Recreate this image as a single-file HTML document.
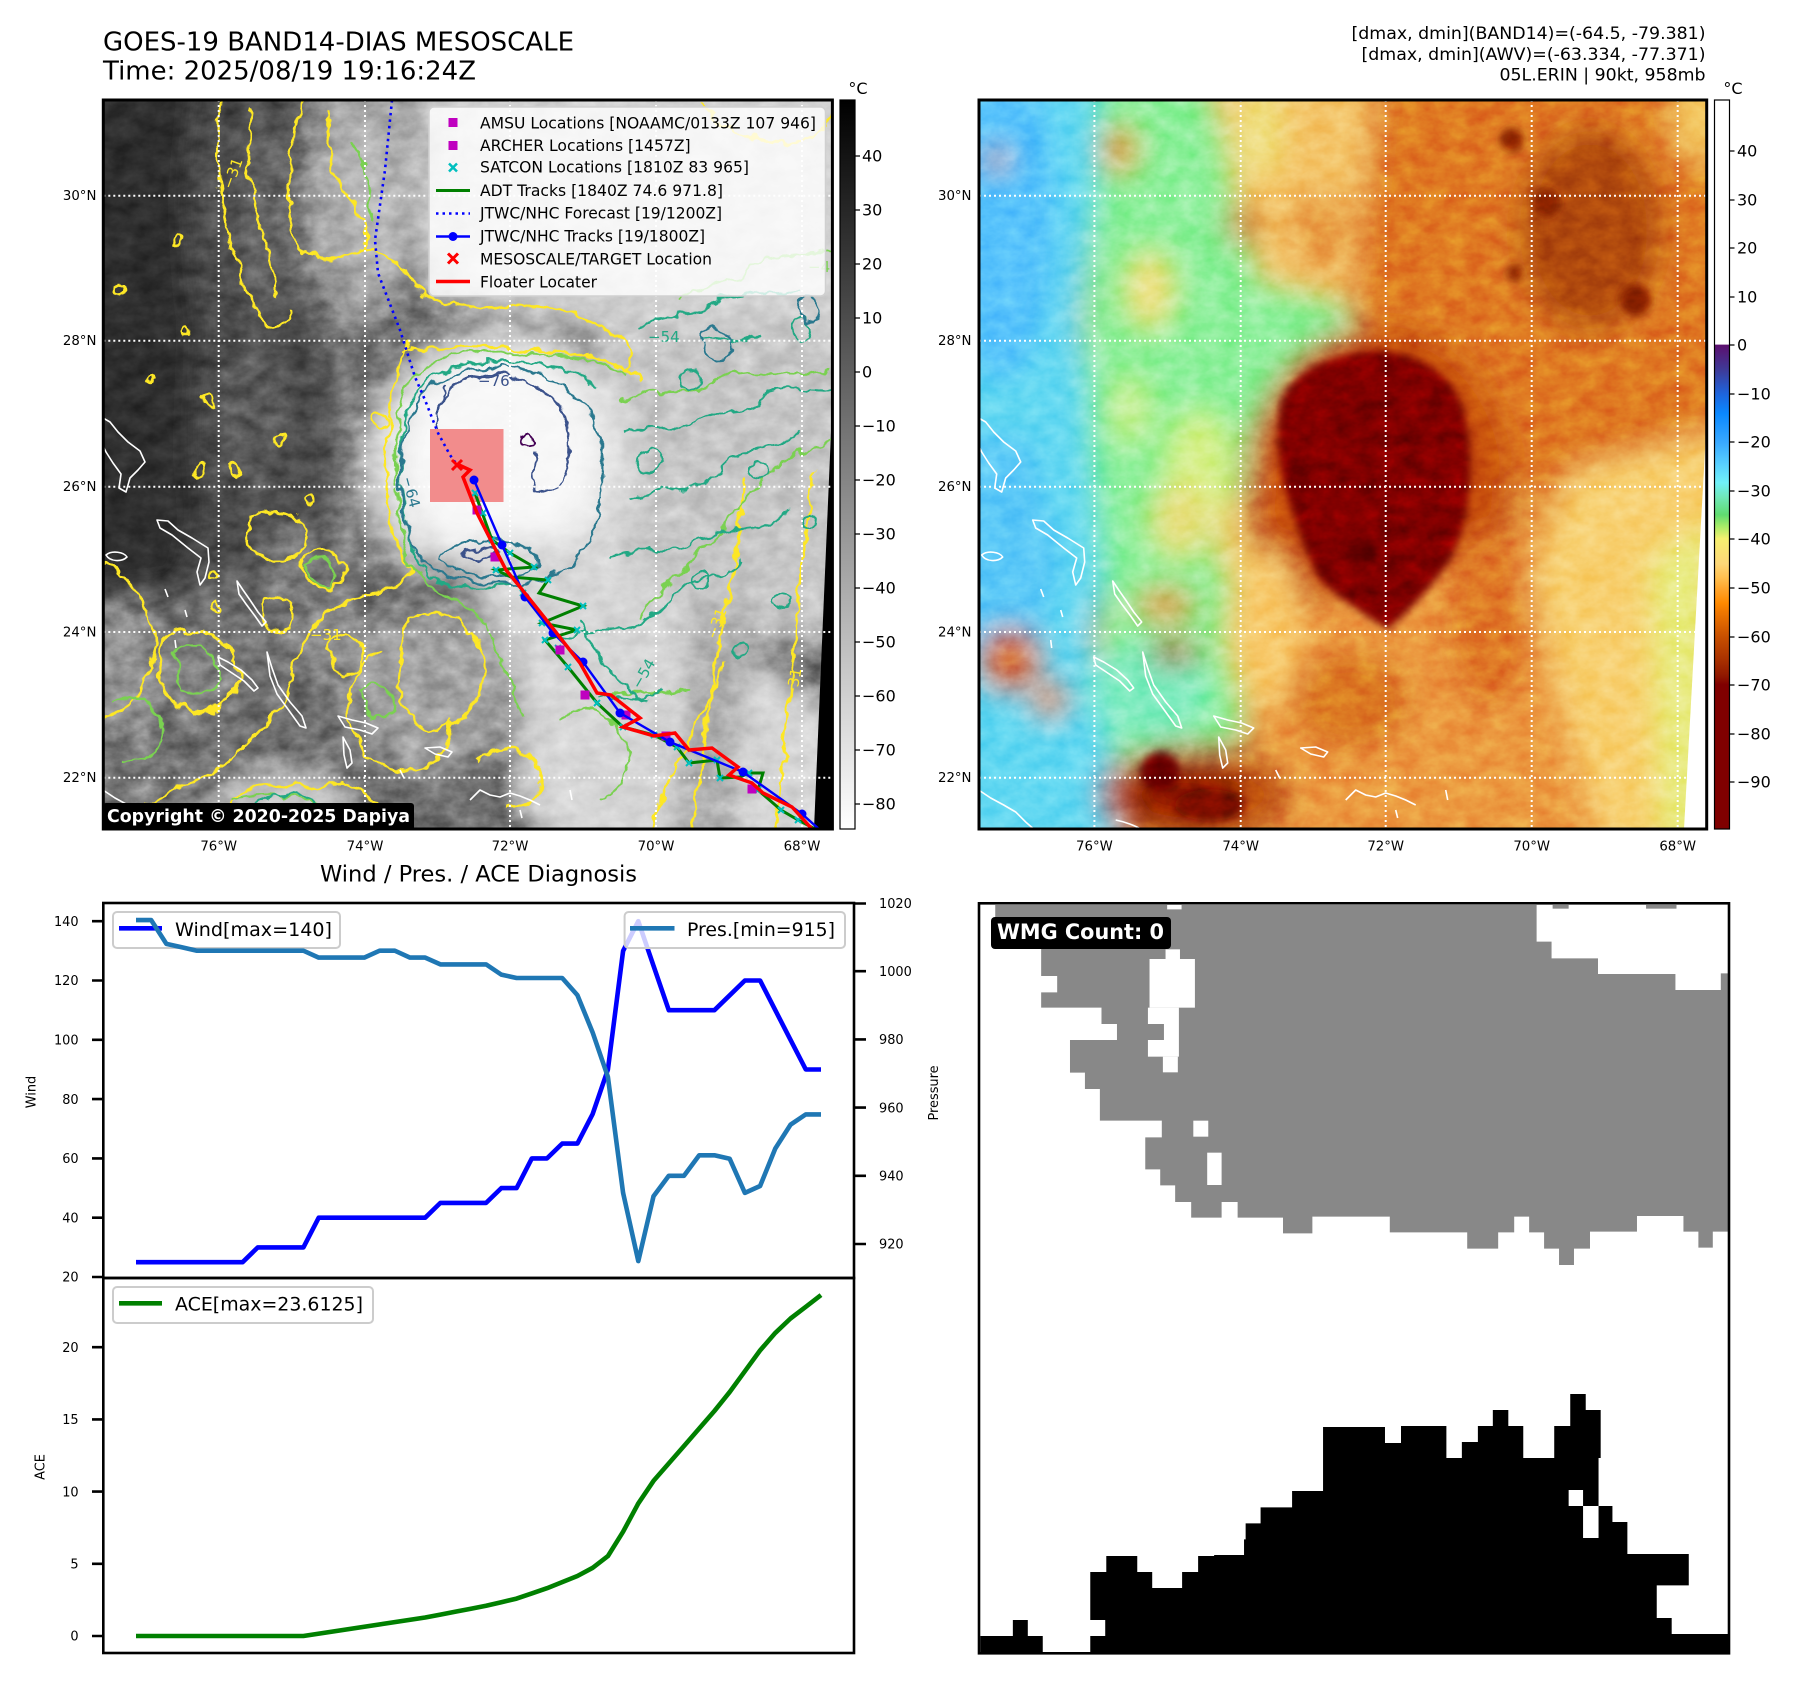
<!DOCTYPE html>
<html><head><meta charset="utf-8"><style>
html,body{margin:0;padding:0;background:#fff;}
svg{display:block;}
text{font-family:"DejaVu Sans","Liberation Sans",sans-serif;}
</style></head><body>
<svg width="1797" height="1690" viewBox="0 0 1797 1690" xmlns="http://www.w3.org/2000/svg" xmlns:xlink="http://www.w3.org/1999/xlink">
<defs>
 <clipPath id="cL"><rect x="103.3" y="100" width="729.1" height="729"/></clipPath>
 <clipPath id="cR"><rect x="979" y="100" width="727.7" height="729"/></clipPath>
 <clipPath id="cB"><rect x="979" y="903.3" width="750" height="750"/></clipPath>
 <clipPath id="cP1"><rect x="103.3" y="903" width="750.7" height="375"/></clipPath>
 <clipPath id="cP2"><rect x="103.3" y="1278" width="750.7" height="375"/></clipPath>
 <filter id="bl" x="-20%" y="-20%" width="140%" height="140%"><feGaussianBlur stdDeviation="14"/></filter>
 <filter id="bs" x="-20%" y="-20%" width="140%" height="140%"><feGaussianBlur stdDeviation="4"/></filter>
 <filter id="wig" x="-5%" y="-5%" width="110%" height="110%" color-interpolation-filters="sRGB">
  <feTurbulence type="fractalNoise" baseFrequency="0.055" numOctaves="3" seed="9" result="t"/>
  <feDisplacementMap in="SourceGraphic" in2="t" scale="14" xChannelSelector="R" yChannelSelector="G"/>
 </filter>
 <filter id="tex" color-interpolation-filters="sRGB">
  <feTurbulence type="fractalNoise" baseFrequency="0.045 0.065" numOctaves="4" seed="4"/>
  <feColorMatrix type="matrix" values="1 0 0 0 0  1 0 0 0 0  1 0 0 0 0  0 0 0 0 1"/>
 </filter>
 <linearGradient id="gGr" gradientUnits="userSpaceOnUse" x1="0" y1="100" x2="0" y2="829">
  <stop offset="0" stop-color="#000"/><stop offset="1" stop-color="#fff"/>
 </linearGradient>
 <linearGradient id="gCm" gradientUnits="userSpaceOnUse" x1="0" y1="100" x2="0" y2="829">
  <stop offset="0" stop-color="#fff"/><stop offset="0.335" stop-color="#fff"/>
  <stop offset="0.336" stop-color="#5c0f6e"/><stop offset="0.37" stop-color="#3e3a98"/>
  <stop offset="0.403" stop-color="#1e64dc"/><stop offset="0.43" stop-color="#0a88ff"/>
  <stop offset="0.469" stop-color="#38a8ff"/><stop offset="0.50" stop-color="#58d0ff"/>
  <stop offset="0.525" stop-color="#70f0f8"/><stop offset="0.545" stop-color="#70e8b8"/>
  <stop offset="0.569" stop-color="#60dc70"/><stop offset="0.585" stop-color="#a8ec68"/>
  <stop offset="0.602" stop-color="#f6f070"/><stop offset="0.636" stop-color="#fdd778"/>
  <stop offset="0.655" stop-color="#ffc050"/><stop offset="0.669" stop-color="#ffa830"/>
  <stop offset="0.69" stop-color="#ff8a00"/><stop offset="0.702" stop-color="#f07800"/>
  <stop offset="0.736" stop-color="#c85000"/><stop offset="0.769" stop-color="#a83000"/>
  <stop offset="0.79" stop-color="#901800"/><stop offset="0.802" stop-color="#800000"/>
  <stop offset="1" stop-color="#800000"/>
 </linearGradient>
 <g id="coast" fill="none" stroke="#fff" stroke-width="1.6" stroke-linejoin="round">
  <path d="M 103 418 L 110 422 L 118 432 L 128 442 L 140 451 L 145 462 L 138 470 L 130 478 L 126 492 L 119 488 L 121 474 L 113 463 L 106 452 L 103 446"/>
  <path d="M 106 555 C 112 550 124 552 127 557 C 122 562 110 562 106 555 Z"/>
  <path d="M 157 520 L 168 521 L 178 530 L 192 538 L 208 548 L 209 562 L 205 578 L 200 585 L 197 572 L 201 558 L 188 548 L 172 535 L 160 528 Z"/>
  <path d="M 237 581 L 243 590 L 250 600 L 258 612 L 266 622 L 262 626 L 255 616 L 246 604 L 239 594 Z"/>
  <path d="M 165 589 L 168 597 M 185 610 L 187 617 M 175 640 L 176 648"/>
  <path d="M 218 657 L 228 662 L 241 670 L 252 680 L 258 688 L 254 691 L 244 681 L 232 673 L 220 665 Z"/>
  <path d="M 267 652 L 272 668 L 278 685 L 290 702 L 302 716 L 306 728 L 300 726 L 290 712 L 277 694 L 270 676 Z"/>
  <path d="M 338 716 L 352 720 L 366 723 L 378 728 L 372 734 L 360 730 L 345 727 Z"/>
  <path d="M 343 737 L 350 750 L 352 763 L 347 768 L 344 755 Z"/>
  <path d="M 103 790 L 115 798 L 128 805 L 140 812 L 150 822 L 158 829"/>
  <path d="M 240 820 C 250 822 260 826 265 829"/>
  <path d="M 425 748 L 440 747 L 452 752 L 448 757 L 435 754 Z"/>
  <path d="M 470 800 L 480 790 L 490 795 L 500 797 L 510 793 L 520 796 L 530 800 L 540 805"/>
  <path d="M 520 810 L 522 818 M 570 790 L 572 800 M 400 770 L 404 778"/>
 </g>
 <g id="grid" stroke="#fff" stroke-width="2" stroke-dasharray="2 3" fill="none">
  <path d="M 103.3 195.7 H 832.4 M 103.3 340.7 H 832.4 M 103.3 486.7 H 832.4 M 103.3 632 H 832.4 M 103.3 777.7 H 832.4"/>
  <path d="M 218.7 100 V 829 M 365 100 V 829 M 510 100 V 829 M 656 100 V 829 M 802 100 V 829"/>
 </g>
</defs>

<rect width="1797" height="1690" fill="#fff"/>

<!-- Titles -->
<text x="103" y="50.7" font-size="26" textLength="471" lengthAdjust="spacingAndGlyphs">GOES-19 BAND14-DIAS MESOSCALE</text>
<text x="103" y="79.5" font-size="26" textLength="373" lengthAdjust="spacingAndGlyphs">Time: 2025/08/19 19:16:24Z</text>
<text x="1705.5" y="39" font-size="17.3" text-anchor="end" textLength="354" lengthAdjust="spacingAndGlyphs">[dmax, dmin](BAND14)=(-64.5, -79.381)</text>
<text x="1705.5" y="59.8" font-size="17.3" text-anchor="end" textLength="344" lengthAdjust="spacingAndGlyphs">[dmax, dmin](AWV)=(-63.334, -77.371)</text>
<text x="1705.5" y="80.5" font-size="17.3" text-anchor="end" textLength="206" lengthAdjust="spacingAndGlyphs">05L.ERIN | 90kt, 958mb</text>

<!-- ================= LEFT MAP ================= -->
<g clip-path="url(#cL)">
 <g filter="url(#bl)">
  <rect x="50" y="50" width="830" height="830" fill="#6e6e6e"/>
  <polygon points="50,50 205,50 195,200 200,350 205,500 190,590 50,610" fill="#2f2f2f"/>
  <polygon points="205,50 320,50 300,180 295,260 320,340 340,420 340,500 300,570 205,590 195,450 200,300" fill="#4b4b4b"/>
  <ellipse cx="265" cy="220" rx="28" ry="100" fill="#646464"/>
  <ellipse cx="250" cy="420" rx="40" ry="70" fill="#5a5a5a"/>
  <polygon points="320,50 430,50 425,250 395,300 350,330 310,260 300,180" fill="#a4a4a4"/>
  <ellipse cx="370" cy="200" rx="30" ry="70" fill="#bcbcbc"/>
  <polygon points="430,50 880,50 880,330 610,330 440,300 420,250" fill="#d2d2d2"/>
  <polygon points="600,320 880,320 880,640 640,640 590,520" fill="#c6c6c6"/>
  <ellipse cx="370" cy="470" rx="30" ry="90" fill="#888888"/>
  <ellipse cx="500" cy="465" rx="135" ry="135" fill="#dedede"/>
  <ellipse cx="500" cy="458" rx="100" ry="105" fill="#f8f8f8"/>
  <polygon points="470,540 610,540 720,640 880,740 880,880 560,880 500,760" fill="#d6d6d6"/>
  <polygon points="690,620 745,600 735,880 672,880" fill="#ababab"/>
  <polygon points="50,610 190,590 330,580 460,560 520,690 510,880 50,880" fill="#6e6e6e"/>
  <ellipse cx="285" cy="805" rx="70" ry="35" fill="#c8c8c8"/>
  <ellipse cx="330" cy="640" rx="45" ry="30" fill="#909090"/>
  <ellipse cx="120" cy="670" rx="40" ry="70" fill="#949494"/>
  <ellipse cx="430" cy="690" rx="80" ry="80" fill="#a2a2a2"/>
  <ellipse cx="300" cy="560" rx="40" ry="30" fill="#808080"/>
  <ellipse cx="200" cy="680" rx="40" ry="40" fill="#848484"/>
  <ellipse cx="160" cy="790" rx="50" ry="30" fill="#7e7e7e"/>
 </g>
 <rect x="103.3" y="100" width="729.1" height="729" filter="url(#tex)" style="mix-blend-mode:overlay" opacity="0.45"/>
 <polygon points="832.4,400 832.4,829 814,829" fill="#000"/>

 <!-- contours -->
 <g filter="url(#wig)" fill="none" stroke-linejoin="round">
  <g stroke="#fde725" stroke-width="2.6">
   <path d="M 222 100 C 214 140 218 190 228 230 C 236 270 250 300 262 320 C 272 335 285 330 290 310"/>
   <path d="M 300 100 C 292 140 285 190 292 230 C 300 262 330 262 356 252 C 380 245 400 262 415 285 C 430 305 470 310 520 306 C 560 304 590 322 610 330 C 630 340 640 360 620 370"/>
   <path d="M 250 110 C 245 150 250 190 262 230 C 270 260 280 280 275 300"/>
   <path d="M 330 110 C 325 140 330 170 345 190 C 360 210 370 230 365 250"/>
   <path d="M 402 352 C 450 345 520 345 580 355 C 610 360 630 368 640 380"/>
   <path d="M 410 345 C 392 370 386 420 388 470 C 390 520 394 548 410 565 C 420 585 380 590 350 600 C 320 610 300 640 290 680 C 280 720 250 740 230 760 C 200 780 170 790 140 810 C 125 820 110 825 103 829"/>
   <path d="M 215 829 C 220 800 250 780 290 785 C 320 790 340 775 360 790 C 380 805 400 815 410 829"/>
   <path d="M 103 560 C 120 570 140 590 150 620 C 160 650 150 680 130 700 C 120 715 108 720 103 722"/>
   <path d="M 160 640 C 185 625 215 630 230 650 C 245 670 240 700 215 710 C 190 718 165 700 160 680 C 158 665 158 650 160 640 Z"/>
   <path d="M 250 520 C 270 505 300 510 305 530 C 310 550 290 565 265 560 C 248 555 245 535 250 520 Z"/>
   <path d="M 380 650 C 360 660 345 690 350 720 C 355 750 380 770 410 770 C 440 768 455 745 450 720"/>
   <path d="M 300 560 C 320 545 350 550 345 575 C 340 595 310 600 300 560 Z"/>
   <path d="M 330 640 C 350 625 370 640 360 665 C 350 685 325 675 330 640 Z"/>
   <path d="M 265 600 C 290 590 300 610 290 630 C 275 640 260 620 265 600 Z"/>
   <path d="M 745 480 C 740 540 730 590 720 640 C 712 690 705 740 698 790 C 695 810 693 820 692 829"/>
   <path d="M 815 470 C 805 530 800 580 795 630 C 790 680 785 740 780 790 C 778 810 776 820 775 829"/>
   <path d="M 650 829 C 660 790 680 760 700 720 C 710 700 720 680 725 660"/>
   <path d="M 410 620 C 440 600 470 620 480 650 C 490 690 470 720 440 730 C 410 735 395 700 400 670 C 402 640 405 630 410 620 Z"/>
   <path d="M 480 760 C 500 740 530 745 540 770 C 548 795 530 810 505 805"/>
   <path d="M 700 100 C 720 130 760 150 800 140 C 820 135 830 120 832 110"/>
   <circle cx="120" cy="290" r="6"/><circle cx="186" cy="333" r="5"/><circle cx="207" cy="400" r="5"/>
   <circle cx="200" cy="470" r="6"/><circle cx="212" cy="575" r="4"/><circle cx="215" cy="606" r="4"/>
   <circle cx="178" cy="240" r="5"/><circle cx="150" cy="380" r="4"/><circle cx="380" cy="420" r="6"/>
   <circle cx="235" cy="470" r="5"/><circle cx="280" cy="440" r="6"/><circle cx="310" cy="500" r="5"/>
  </g>
  <g stroke="#7ad151" stroke-width="2.3">
   <path d="M 625 372 C 580 352 520 350 460 354 C 420 360 402 382 398 420 C 394 470 398 530 410 565 C 432 590 462 600 482 620 C 502 650 512 690 522 720"/>
   <path d="M 620 400 C 650 385 690 400 720 380 C 750 362 790 380 832 370"/>
   <path d="M 640 620 C 660 580 700 560 730 520 C 760 480 790 450 832 440"/>
   <path d="M 600 700 C 630 680 660 700 690 690"/>
   <path d="M 110 700 C 130 690 150 700 160 720 C 170 740 150 760 120 760"/>
   <path d="M 230 800 C 260 790 300 795 330 805"/>
   <path d="M 305 565 C 320 555 340 560 338 578 C 335 592 315 595 305 565 Z"/>
   <path d="M 360 690 C 380 680 400 690 395 710 C 390 725 365 720 360 690 Z"/>
   <path d="M 680 300 C 700 280 730 290 750 270 C 770 250 800 260 832 250"/>
   <path d="M 560 720 C 580 700 610 710 625 740 C 640 770 620 790 600 800"/>
   <path d="M 175 650 C 195 640 215 650 220 670 C 222 690 200 700 180 690 Z"/>
   <path d="M 350 140 C 365 160 375 190 372 220"/>
  </g>
  <g stroke="#22a884" stroke-width="2.2">
   <path d="M 600 390 C 580 367 530 360 480 362 C 432 366 404 392 401 440 C 398 490 404 540 422 570 C 446 592 480 590 510 585"/>
   <path d="M 620 430 C 650 420 680 440 700 420 C 720 400 740 420 760 400 C 780 380 810 395 832 390"/>
   <path d="M 630 500 C 660 480 700 500 720 470 C 740 440 780 460 800 430"/>
   <path d="M 610 560 C 640 540 670 560 700 540 C 730 520 760 540 790 510"/>
   <path d="M 560 640 C 600 620 640 640 670 600 C 690 570 710 590 740 560"/>
   <path d="M 640 330 C 660 310 700 320 720 300 C 740 285 770 300 800 290"/>
   <path d="M 700 340 C 720 330 740 350 760 335"/>
   <path d="M 600 700 C 620 690 640 705 660 690"/>
   <path d="M 240 829 C 245 805 270 790 300 795 C 320 798 330 810 335 829"/>
   <path d="M 580 620 C 600 660 620 690 650 700"/>
   <circle cx="650" cy="460" r="12"/><circle cx="760" cy="470" r="10"/><circle cx="700" cy="580" r="8"/>
   <circle cx="800" cy="330" r="10"/><circle cx="780" cy="600" r="8"/><circle cx="690" cy="380" r="9"/>
   <circle cx="810" cy="520" r="7"/><circle cx="740" cy="650" r="7"/>
  </g>
  <g stroke="#2a788e" stroke-width="2.2">
   <path d="M 480 367 C 540 362 590 392 600 440 C 608 490 595 540 570 570 C 540 590 480 585 440 575 C 410 560 400 520 400 470 C 400 410 430 372 480 367 Z"/>
   <path d="M 440 560 C 450 540 490 535 520 545 C 540 552 545 565 530 572 C 505 580 460 578 440 560 Z"/>
   <path d="M 252 829 C 262 810 285 805 305 812 C 320 818 325 825 326 829"/>
   <path d="M 700 330 C 720 320 740 340 730 355 C 715 365 700 350 700 330 Z"/>
   <path d="M 800 300 C 815 295 825 310 815 322 C 805 328 795 315 800 300 Z"/>
  </g>
  <g stroke="#3b528b" stroke-width="2.3">
   <path d="M 437 415 C 440 395 455 380 480 376 C 510 372 540 385 558 405 C 572 425 574 455 565 475 C 558 488 545 495 535 490 C 530 480 540 465 535 450"/>
   <path d="M 444 385 C 440 400 437 415 438 430"/>
   <path d="M 470 378 C 480 372 495 372 505 376"/>
   <path d="M 460 555 C 470 545 490 545 500 552 C 490 560 470 560 460 555 Z"/>
  </g>
  <circle cx="527" cy="440" r="6" stroke="#440154" stroke-width="2"/>
 </g>
 <g font-size="15">
  <text x="478" y="386" fill="#3b528b">−76</text>
  <text x="0" y="0" fill="#2a788e" transform="translate(402,478) rotate(75)">−64</text>
  <text x="0" y="0" fill="#fde725" transform="translate(232,190) rotate(-70)">−31</text>
  <text x="648" y="342" fill="#22a884">−54</text>
  <text x="0" y="0" fill="#fde725" transform="translate(716,640) rotate(-70)">−31</text>
  <text x="0" y="0" fill="#fde725" transform="translate(796,700) rotate(-80)">−31</text>
  <text x="274" y="818" fill="#2a788e">−64</text>
  <text x="310" y="640" fill="#fde725">−31</text>
  <text x="808" y="272" fill="#7ad151">−42</text>
  <text x="0" y="0" fill="#22a884" transform="translate(640,690) rotate(-60)">−54</text>
 </g>

 <use xlink:href="#coast" href="#coast"/>
 <use xlink:href="#grid" href="#grid"/>

 <!-- overlays -->
 <rect x="430" y="429" width="73.5" height="73" fill="#f28c8c"/>
 <polyline points="392,100 385,170 375,240 378,273 400,330 415,377 425,400 438,433 450,455 457,465" fill="none" stroke="#0000ff" stroke-width="2.6" stroke-dasharray="2.5 4"/>
 <polyline points="475,493 492,540 510,553 534,567 496,570 511,577 548,580 539,593 583,606 542,623 577,630 545,640 568,667 597,703 623,727 654,735 677,747 689,763 717,760 720,778 740,777 749,773 763,773 758,790 781,810 798,820 815,829" fill="none" stroke="#008000" stroke-width="3"/>
 <g stroke="#00bfbf" stroke-width="2">
  <path d="M 472 490 l 6 6 m 0 -6 l -6 6 M 489 537 l 6 6 m 0 -6 l -6 6 M 507 550 l 6 6 m 0 -6 l -6 6 M 531 564 l 6 6 m 0 -6 l -6 6 M 493 567 l 6 6 m 0 -6 l -6 6 M 545 577 l 6 6 m 0 -6 l -6 6 M 580 603 l 6 6 m 0 -6 l -6 6 M 539 620 l 6 6 m 0 -6 l -6 6 M 574 627 l 6 6 m 0 -6 l -6 6 M 542 637 l 6 6 m 0 -6 l -6 6 M 565 664 l 6 6 m 0 -6 l -6 6 M 594 700 l 6 6 m 0 -6 l -6 6 M 620 724 l 6 6 m 0 -6 l -6 6 M 651 732 l 6 6 m 0 -6 l -6 6 M 674 744 l 6 6 m 0 -6 l -6 6 M 686 760 l 6 6 m 0 -6 l -6 6 M 714 757 l 6 6 m 0 -6 l -6 6 M 717 775 l 6 6 m 0 -6 l -6 6 M 746 770 l 6 6 m 0 -6 l -6 6 M 755 787 l 6 6 m 0 -6 l -6 6 M 778 807 l 6 6 m 0 -6 l -6 6 M 795 817 l 6 6 m 0 -6 l -6 6 M 480 510 l 6 6 m 0 -6 l -6 6 M 520 590 l 6 6 m 0 -6 l -6 6 M 555 645 l 6 6 m 0 -6 l -6 6"/>
 </g>
 <g fill="#bf00bf">
  <rect x="472.5" y="505.5" width="9" height="9"/><rect x="490.5" y="552.5" width="9" height="9"/>
  <rect x="555.5" y="645.5" width="9" height="9"/><rect x="580.5" y="690.5" width="9" height="9"/>
  <rect x="621.5" y="710.5" width="9" height="9"/><rect x="661.5" y="731.5" width="9" height="9"/>
  <rect x="747.5" y="784.5" width="9" height="9"/>
 </g>
 <polyline points="474,480 502,545 525,597 553,633 583,662 620,713 670,742 743,772 802,814 820,830" fill="none" stroke="#0000ff" stroke-width="2.4"/>
 <g fill="#0000ff">
  <circle cx="474" cy="480" r="4.5"/><circle cx="502" cy="545" r="4.5"/><circle cx="525" cy="597" r="4.5"/>
  <circle cx="553" cy="633" r="4.5"/><circle cx="583" cy="662" r="4.5"/><circle cx="620" cy="713" r="4.5"/>
  <circle cx="670" cy="742" r="4.5"/><circle cx="743" cy="772" r="4.5"/><circle cx="802" cy="814" r="4.5"/>
 </g>
 <polyline points="459,465 470,470 463,477 477,513 506,570 520,587 544,617 580,663 597,693 611,695 640,718 623,727 654,736 675,733 689,750 712,748 738,767 729,775 752,783 763,793 792,807 812,829" fill="none" stroke="#ff0000" stroke-width="3.5" stroke-linejoin="miter"/>
 <path d="M 452 460 L 462 470 M 452 470 L 462 460" stroke="#ff0000" stroke-width="3"/>

 <!-- legend -->
 <rect x="429" y="107" width="396.5" height="189" rx="5" fill="#fff" fill-opacity="0.8" stroke="#d0d0d0" stroke-width="1.5"/>
 <rect x="448.5" y="118" width="9" height="9" fill="#bf00bf"/>
 <rect x="448.5" y="141" width="9" height="9" fill="#bf00bf"/>
 <path d="M 449 163.5 l 8 8 m 0 -8 l -8 8" stroke="#00bfbf" stroke-width="2.5"/>
 <line x1="436" y1="190.5" x2="470" y2="190.5" stroke="#008000" stroke-width="3"/>
 <line x1="436" y1="213.5" x2="470" y2="213.5" stroke="#0000ff" stroke-width="2.6" stroke-dasharray="2.5 4"/>
 <line x1="436" y1="236.5" x2="470" y2="236.5" stroke="#0000ff" stroke-width="2.6"/>
 <circle cx="453" cy="236.5" r="4.5" fill="#0000ff"/>
 <path d="M 448 253.5 l 10 10 m 0 -10 l -10 10" stroke="#ff0000" stroke-width="3"/>
 <line x1="436" y1="281.5" x2="470" y2="281.5" stroke="#ff0000" stroke-width="3.5"/>
 <g font-size="15.6" fill="#000">
  <text x="480" y="128.3" textLength="336" lengthAdjust="spacingAndGlyphs">AMSU Locations [NOAAMC/0133Z 107 946]</text>
  <text x="480" y="151" textLength="210.6" lengthAdjust="spacingAndGlyphs">ARCHER Locations [1457Z]</text>
  <text x="480" y="172.7" textLength="269" lengthAdjust="spacingAndGlyphs">SATCON Locations [1810Z 83 965]</text>
  <text x="480" y="196" textLength="243" lengthAdjust="spacingAndGlyphs">ADT Tracks [1840Z 74.6 971.8]</text>
  <text x="480" y="218.7" textLength="242" lengthAdjust="spacingAndGlyphs">JTWC/NHC Forecast [19/1200Z]</text>
  <text x="480" y="241.7" textLength="225" lengthAdjust="spacingAndGlyphs">JTWC/NHC Tracks [19/1800Z]</text>
  <text x="480" y="264.3" textLength="232" lengthAdjust="spacingAndGlyphs">MESOSCALE/TARGET Location</text>
  <text x="480" y="287.3" textLength="117" lengthAdjust="spacingAndGlyphs">Floater Locater</text>
 </g>
 <!-- copyright -->
 <rect x="103" y="803" width="311" height="28" rx="3" fill="#000"/>
 <text x="107" y="822" font-size="17.4" font-weight="bold" fill="#fff" textLength="303" lengthAdjust="spacingAndGlyphs">Copyright © 2020-2025 Dapiya</text>
</g>
<rect x="103.3" y="100" width="729.1" height="729" fill="none" stroke="#000" stroke-width="3"/>

<!-- left colorbar -->
<rect x="840" y="100" width="15" height="729" fill="url(#gGr)" stroke="#000" stroke-width="1.2"/>
<text x="858" y="94" font-size="16" text-anchor="middle">°C</text>
<g stroke="#000" stroke-width="1.3">
 <path d="M855 156h5M855 210h5M855 264h5M855 318h5M855 372h5M855 426h5M855 480h5M855 534h5M855 588h5M855 642h5M855 696h5M855 750h5M855 804h5"/>
</g>
<g font-size="16">
 <text x="862" y="161.7">40</text><text x="862" y="215.7">30</text><text x="862" y="269.7">20</text>
 <text x="862" y="323.7">10</text><text x="862" y="377.7">0</text><text x="862" y="431.7">−10</text>
 <text x="862" y="485.7">−20</text><text x="862" y="539.7">−30</text><text x="862" y="593.7">−40</text>
 <text x="862" y="647.7">−50</text><text x="862" y="701.7">−60</text><text x="862" y="755.7">−70</text>
 <text x="862" y="809.7">−80</text>
</g>

<!-- left map tick labels -->
<g font-size="13.3" text-anchor="end">
 <text x="96.4" y="200.2">30°N</text><text x="96.4" y="345.2">28°N</text><text x="96.4" y="491.2">26°N</text>
 <text x="96.4" y="636.5">24°N</text><text x="96.4" y="782.2">22°N</text>
</g>
<g font-size="13.3" text-anchor="middle">
 <text x="218.7" y="850.7">76°W</text><text x="365" y="850.7">74°W</text><text x="510" y="850.7">72°W</text>
 <text x="656" y="850.7">70°W</text><text x="802" y="850.7">68°W</text>
</g>

<!-- ================= RIGHT MAP ================= -->
<g clip-path="url(#cR)">
 <g filter="url(#bl)">
  <rect x="930" y="50" width="830" height="830" fill="#e89a40"/>
  <polygon points="930,50 1110,50 1095,200 1080,320 1095,450 1110,560 1090,640 1110,720 1120,880 930,880" fill="#62d8f2"/>
  <ellipse cx="1000" cy="210" rx="55" ry="170" fill="#56c2fc"/>
  <polygon points="930,430 1030,440 1060,560 1040,640 930,650" fill="#5ac8f8"/>
  <polygon points="1100,50 1200,50 1240,200 1260,280 1330,300 1420,330 1400,370 1290,380 1250,430 1240,560 1235,640 1245,740 1120,770 1095,700 1105,600 1090,450 1085,320 1095,200" fill="#8cf09a"/>
  <ellipse cx="1150" cy="690" rx="60" ry="50" fill="#80ecc0"/>
  <ellipse cx="1200" cy="470" rx="35" ry="60" fill="#d4f084"/>
  <ellipse cx="1130" cy="410" rx="22" ry="35" fill="#c8f090"/>
  <ellipse cx="1240" cy="540" rx="25" ry="45" fill="#f0d070"/>
  <ellipse cx="1165" cy="605" rx="30" ry="18" fill="#e0a050"/>
  <polygon points="1210,50 1390,50 1385,200 1350,300 1270,285 1235,200" fill="#f4c468"/>
  <ellipse cx="1260" cy="130" rx="25" ry="50" fill="#f0e080"/>
  <ellipse cx="1320" cy="230" rx="30" ry="40" fill="#e89a40"/>
  <ellipse cx="1150" cy="290" rx="25" ry="40" fill="#f0e080"/>
  <ellipse cx="1120" cy="150" rx="18" ry="25" fill="#e8a050"/>
  <ellipse cx="1243" cy="225" rx="16" ry="18" fill="#c86818"/>
  <ellipse cx="1180" cy="520" rx="30" ry="40" fill="#e8e080"/>
  <ellipse cx="997" cy="160" rx="10" ry="12" fill="#e89040"/>
  <polygon points="1380,50 1760,50 1760,520 1600,520 1500,470 1420,360 1350,320 1360,220" fill="#e07a20"/>
  <ellipse cx="1590" cy="230" rx="70" ry="100" fill="#b04a08"/>
  <ellipse cx="1700" cy="110" rx="30" ry="55" fill="#f4c860"/>
  <ellipse cx="1380" cy="490" rx="135" ry="165" fill="#c85008"/>
  <polygon points="1260,620 1460,560 1560,520 1650,520 1620,880 1280,880" fill="#ec9a40"/>
  <ellipse cx="1265" cy="630" rx="40" ry="80" fill="#f8c868"/>
  <ellipse cx="1350" cy="700" rx="60" ry="50" fill="#dc7820"/>
  <ellipse cx="1490" cy="620" rx="45" ry="90" fill="#e07828"/>
  <polygon points="1570,470 1760,420 1760,880 1610,880 1560,700 1530,580" fill="#f8d070"/>
  <polygon points="1650,560 1710,520 1710,880 1660,880" fill="#e8ec80"/>
  <ellipse cx="1195" cy="795" rx="95" ry="50" fill="#c05010"/>
  <ellipse cx="1185" cy="795" rx="60" ry="32" fill="#901800"/>
  <ellipse cx="1010" cy="660" rx="32" ry="32" fill="#d87020"/>
  <ellipse cx="1050" cy="700" rx="18" ry="18" fill="#e08838"/>
  <ellipse cx="1175" cy="652" rx="25" ry="12" fill="#b04010"/>
 </g>
 <g filter="url(#bs)">
  <circle cx="1512" cy="140" r="12" fill="#8a2000"/>
  <circle cx="1546" cy="203" r="14" fill="#8a2000"/>
  <circle cx="1515" cy="273" r="8" fill="#8a2000"/>
  <circle cx="1636" cy="300" r="16" fill="#902400"/>
  <circle cx="1160" cy="772" r="20" fill="#6a0000"/>
  <ellipse cx="1210" cy="805" rx="35" ry="16" fill="#7a0800"/>
  <path d="M 1375 350 C 1405 352 1430 362 1445 378 C 1462 395 1468 420 1470 450 C 1472 490 1467 530 1450 560 C 1430 590 1405 615 1388 630 C 1372 620 1340 600 1320 580 C 1305 555 1295 520 1285 490 C 1277 460 1275 430 1282 400 C 1292 375 1320 355 1375 350 Z" fill="#800000"/>
  <ellipse cx="1358" cy="552" rx="20" ry="12" fill="#600000"/>
 </g>
 <rect x="979" y="100" width="727.7" height="729" filter="url(#tex)" style="mix-blend-mode:overlay" opacity="0.35"/>
 <polygon points="1706.7,420 1706.7,829 1684,829" fill="#fff"/>
 <g transform="translate(875.7,0)">
  <use xlink:href="#coast" href="#coast"/>
  <use xlink:href="#grid" href="#grid"/>
 </g>
</g>
<rect x="979" y="100" width="727.7" height="729" fill="none" stroke="#000" stroke-width="3"/>

<!-- right colorbar -->
<rect x="1714.5" y="100" width="15" height="729" fill="url(#gCm)" stroke="#000" stroke-width="1.2"/>
<text x="1733" y="94" font-size="16" text-anchor="middle">°C</text>
<g stroke="#000" stroke-width="1.3">
 <path d="M1729.5 151h5M1729.5 200h5M1729.5 248h5M1729.5 297h5M1729.5 345h5M1729.5 394h5M1729.5 442h5M1729.5 491h5M1729.5 539h5M1729.5 588h5M1729.5 637h5M1729.5 685h5M1729.5 734h5M1729.5 782h5"/>
</g>
<g font-size="16">
 <text x="1737" y="156.7">40</text><text x="1737" y="205.7">30</text><text x="1737" y="253.7">20</text>
 <text x="1737" y="302.7">10</text><text x="1737" y="350.7">0</text><text x="1737" y="399.7">−10</text>
 <text x="1737" y="447.7">−20</text><text x="1737" y="496.7">−30</text><text x="1737" y="544.7">−40</text>
 <text x="1737" y="593.7">−50</text><text x="1737" y="642.7">−60</text><text x="1737" y="690.7">−70</text>
 <text x="1737" y="739.7">−80</text><text x="1737" y="787.7">−90</text>
</g>
<g font-size="13.3" text-anchor="end">
 <text x="971.5" y="200.2">30°N</text><text x="971.5" y="345.2">28°N</text><text x="971.5" y="491.2">26°N</text>
 <text x="971.5" y="636.5">24°N</text><text x="971.5" y="782.2">22°N</text>
</g>
<g font-size="13.3" text-anchor="middle">
 <text x="1094.4" y="850.7">76°W</text><text x="1240.7" y="850.7">74°W</text><text x="1385.7" y="850.7">72°W</text>
 <text x="1531.7" y="850.7">70°W</text><text x="1677.7" y="850.7">68°W</text>
</g>

<!-- ================= BOTTOM LEFT PLOTS ================= -->
<text x="478.5" y="881.5" font-size="22.4" text-anchor="middle" textLength="317" lengthAdjust="spacingAndGlyphs">Wind / Pres. / ACE Diagnosis</text>

<g clip-path="url(#cP1)">
 <polyline points="136,1262.2 242.6,1262.2 257.8,1247.4 303.4,1247.4 318.7,1217.7 425.2,1217.7 440.4,1202.9 486.1,1202.9 501.3,1188.1 516.6,1188.1 531.8,1158.4 547,1158.4 562.2,1143.6 577.4,1143.6 592.7,1113.9 607.9,1069.5 623.1,950.9 638.3,921.2 653.5,965.7 668.8,1010.2 714.4,1010.2 729.7,995.3 744.9,980.5 760.1,980.5 775.3,1010.2 790.5,1039.8 805.8,1069.5 821,1069.5" fill="none" stroke="#0000ff" stroke-width="4.6" stroke-linejoin="round"/>
</g>
<rect x="113" y="912" width="227" height="36" rx="4" fill="#fff" fill-opacity="0.8" stroke="#cccccc" stroke-width="2"/>
<line x1="119" y1="928.3" x2="162" y2="928.3" stroke="#0000ff" stroke-width="4.6"/>
<text x="175" y="936" font-size="19" textLength="157" lengthAdjust="spacingAndGlyphs">Wind[max=140]</text>
<g clip-path="url(#cP1)">
 <polyline points="136,920.1 151.2,920.1 166.4,943.9 181.7,947.3 196.9,950.7 303.4,950.7 318.7,957.6 364.3,957.6 379.6,950.7 394.8,950.7 410,957.6 425.2,957.6 440.4,964.4 486.1,964.4 501.3,974.6 516.6,978 562.2,978 577.4,995.1 592.7,1032.6 607.9,1076.9 623.1,1192.9 638.3,1261.1 653.5,1196.3 668.8,1175.8 684,1175.8 699.2,1155.3 714.4,1155.3 729.7,1158.8 744.9,1192.9 760.1,1186 775.3,1148.5 790.5,1124.7 805.8,1114.4 821,1114.4" fill="none" stroke="#1f77b4" stroke-width="4.6" stroke-linejoin="round"/>
</g>
<rect x="624.6" y="912" width="220.4" height="36" rx="4" fill="#fff" fill-opacity="0.8" stroke="#cccccc" stroke-width="2"/>
<line x1="630" y1="928.3" x2="674.5" y2="928.3" stroke="#1f77b4" stroke-width="4.6"/>
<text x="687" y="936" font-size="19" textLength="148" lengthAdjust="spacingAndGlyphs">Pres.[min=915]</text>

<g clip-path="url(#cP2)">
 <polyline points="136,1636 303.4,1636 425.2,1617.5 440.4,1614.6 455.7,1611.6 470.9,1608.7 486.1,1605.8 501.3,1602.2 516.6,1598.6 531.8,1593.4 547,1588.2 562.2,1582.1 577.4,1576 592.7,1567.8 607.9,1556.1 623.1,1531.7 638.3,1503.4 653.5,1480.9 668.8,1463.4 684,1446 699.2,1428.5 714.4,1411 729.7,1392 744.9,1371.2 760.1,1350.4 775.3,1332.9 790.5,1318.5 805.8,1306.8 821,1295.1" fill="none" stroke="#008000" stroke-width="4.6" stroke-linejoin="round"/>
</g>
<rect x="113" y="1287" width="260" height="36" rx="4" fill="#fff" fill-opacity="0.8" stroke="#cccccc" stroke-width="2"/>
<line x1="119" y1="1303.3" x2="162" y2="1303.3" stroke="#008000" stroke-width="4.6"/>
<text x="175" y="1310.7" font-size="19" textLength="188" lengthAdjust="spacingAndGlyphs">ACE[max=23.6125]</text>

<rect x="103.3" y="903" width="750.7" height="375" fill="none" stroke="#000" stroke-width="2.6"/>
<rect x="103.3" y="1278" width="750.7" height="375" fill="none" stroke="#000" stroke-width="2.6"/>
<g stroke="#000" stroke-width="2.6">
 <path d="M92 921.2h11M92 980.5h11M92 1039.8h11M92 1099.1h11M92 1158.4h11M92 1217.7h11M92 1277h11"/>
 <path d="M854 903.5h12M854 971.2h12M854 1039.4h12M854 1107.6h12M854 1175.8h12M854 1244h12"/>
 <path d="M92 1636h11M92 1563.8h11M92 1491.6h11M92 1419.4h11M92 1347.2h11"/>
</g>
<g font-size="12.9" text-anchor="end">
 <text x="78.6" y="925.9">140</text><text x="78.6" y="985.2">120</text><text x="78.6" y="1044.5">100</text>
 <text x="78.6" y="1103.8">80</text><text x="78.6" y="1163.1">60</text><text x="78.6" y="1222.4">40</text>
 <text x="78.6" y="1281.7">20</text>
 <text x="78.6" y="1640.7">0</text><text x="78.6" y="1568.5">5</text><text x="78.6" y="1496.3">10</text>
 <text x="78.6" y="1424.1">15</text><text x="78.6" y="1351.9">20</text>
</g>
<g font-size="12.9">
 <text x="879" y="908.2">1020</text><text x="879" y="975.9">1000</text><text x="879" y="1044.1">980</text>
 <text x="879" y="1112.3">960</text><text x="879" y="1180.5">940</text><text x="879" y="1248.7">920</text>
</g>
<text transform="translate(35.5,1092) rotate(-90)" font-size="12.9" text-anchor="middle">Wind</text>
<text transform="translate(938,1093) rotate(-90)" font-size="12.9" text-anchor="middle">Pressure</text>
<text transform="translate(44.5,1467) rotate(-90)" font-size="12.9" text-anchor="middle">ACE</text>

<!-- ================= BOTTOM RIGHT PANEL ================= -->
<g clip-path="url(#cB)">
 <rect x="979" y="903.3" width="750" height="750" fill="#fff"/>
 <g transform="translate(960 880) scale(0.5339 0.33333)">
  <polygon fill="#888888" points="66,75 388,75 388,88 415,88 415,75 1080,75 1080,185 1108,185 1108,235 1195,235 1195,282 1340,282 1340,330 1425,330 1425,280 1442,280 1442,1055 1410,1055 1410,1103 1383,1103 1383,1055 1355,1055 1355,1008 1268,1008 1268,1055 1180,1055 1180,1106 1150,1106 1150,1155 1122,1155 1122,1106 1094,1106 1094,1057 1066,1057 1066,1010 1038,1010 1038,1057 1008,1057 1008,1106 950,1106 950,1057 805,1057 805,1010 660,1010 660,1060 605,1060 605,1013 520,1013 520,966 490,966 490,1013 433,1013 433,966 403,966 403,916 375,916 375,868 347,868 347,772 378,772 378,722 262,722 262,627 234,627 234,578 206,578 206,480 294,480 294,432 265,432 265,383 152,383 152,337 182,337 182,288 152,288 152,150 66,150"/>
  <g fill="#fff">
   <rect x="385" y="208" width="27" height="29"/><rect x="355" y="237" width="85" height="146"/>
   <rect x="352" y="383" width="58" height="49"/><rect x="382" y="432" width="28" height="48"/>
   <rect x="352" y="480" width="58" height="50"/><rect x="380" y="530" width="28" height="47"/>
   <rect x="437" y="722" width="28" height="48"/><rect x="463" y="818" width="27" height="97"/>
  </g>
  <rect x="1110" y="75" width="30" height="11" fill="#888888"/>
  <rect x="1285" y="75" width="57" height="11" fill="#888888"/>
 </g>
 <g transform="translate(960 1280) scale(0.5339 0.33333)">
  <polygon fill="#000" points="38,1117 38,1068 99,1068 99,1020 127,1020 127,1068 155,1068 155,1117 244,1117 244,876 274,876 274,828 332,828 332,876 360,876 360,924 416,924 416,876 446,876 446,828 476,828 476,825 532,825 532,778 535,778 535,730 563,730 563,682 622,682 622,633 680,633 680,441 796,441 796,489 826,489 826,438 911,438 911,534 940,534 940,486 970,486 970,438 998,438 998,390 1027,390 1027,438 1055,438 1055,534 1113,534 1113,438 1143,438 1143,342 1172,342 1172,390 1200,390 1200,534 1196,534 1196,678 1222,678 1222,726 1250,726 1250,822 1365,822 1365,916 1305,916 1305,1014 1333,1014 1333,1062 1442,1062 1442,1117"/>
  <g fill="#fff">
   <rect x="242" y="1020" width="30" height="48"/>
   <rect x="1140" y="630" width="27" height="48"/>
   <rect x="1167" y="678" width="29" height="96"/>
  </g>
 </g>
 <rect x="991" y="917" width="180" height="32" rx="4" fill="#000"/>
 <text x="997" y="939" font-size="21" font-weight="bold" fill="#fff" textLength="167" lengthAdjust="spacingAndGlyphs">WMG Count: 0</text>
</g>
<rect x="979" y="903.3" width="750" height="750" fill="none" stroke="#000" stroke-width="2.6"/>

</svg>
</body></html>
